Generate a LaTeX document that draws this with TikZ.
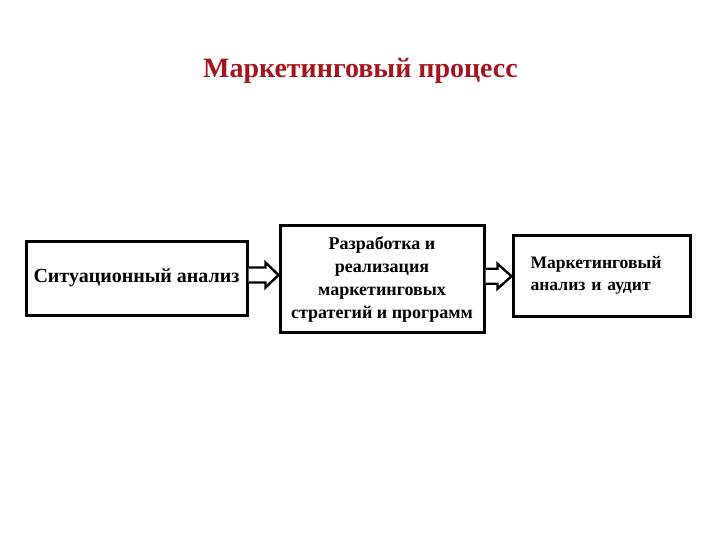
\documentclass[tikz,border=0pt]{standalone}
\usepackage{fontspec}
\setmainfont{Liberation Serif}
\usepackage{tikz}
\usetikzlibrary{positioning,calc}
\definecolor{cTitle}{RGB}{165,20,30}
\tikzset{
  stagebox/.style={rectangle,draw=black,line width=3pt,fill=white,
                   align=center,inner sep=2pt},
  hollowarr/.style={draw=black,line width=2.4pt,fill=white,line join=miter}
}

\begin{document}
\begin{tikzpicture}[x=1pt,y=-1pt]
  \useasboundingbox (0,0) rectangle (720,540);

  \node[font=\fontsize{28}{32}\selectfont\bfseries,text=cTitle] (title)
      at (360.5,71) {Маркетинговый процесс};

  % the three stages
  \node[stagebox,minimum width=221pt,minimum height=74pt,
        font=\fontsize{20}{23}\selectfont\bfseries] (situation)
      at (136.5,278) {Ситуационный анализ};
  \node[stagebox,minimum width=204pt,minimum height=107pt,
        font=\fontsize{18}{23}\selectfont\bfseries] (strategy)
      at (382,279) {Разработка и\\реализация\\маркетинговых\\стратегий и программ};
  \node[stagebox,minimum width=177pt,minimum height=81pt,align=left,
        text width=142pt,font=\fontsize{17.6}{22.5}\selectfont\bfseries] (audit)
      at (601.5,275.5) {Маркетинговый\\анализ и аудит};

  % block arrows between the stages
  \coordinate (m1) at ($(situation.east)!0.5!(strategy.west)+(0,-3.5)$);
  \coordinate (m2) at ($(strategy.east)!0.5!(audit.west)+(0,-1)$);

  \draw[hollowarr] ($(situation.east |- m1)+(0,-7.5)$)
      -- ($(strategy.west |- m1)+(-13,-7.5)$) -- ++(0,-5)
      -- (strategy.west |- m1) -- ++(-13,12.5) -- ++(0,-5)
      -- ($(situation.east |- m1)+(0,7.5)$);
  \draw[hollowarr] ($(strategy.east |- m2)+(0,-7.5)$)
      -- ($(audit.west |- m2)+(-14,-7.5)$) -- ++(0,-5)
      -- (audit.west |- m2) -- ++(-14,12.5) -- ++(0,-5)
      -- ($(strategy.east |- m2)+(0,7.5)$);

\end{tikzpicture}
\end{document}
